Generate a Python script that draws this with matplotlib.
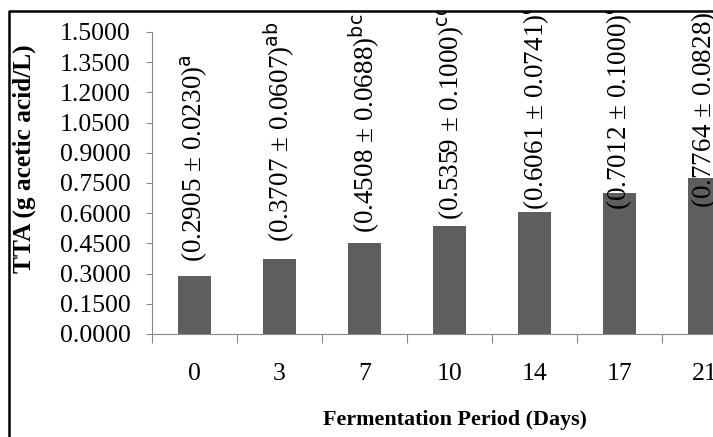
import matplotlib
matplotlib.use('Agg')

import matplotlib.pyplot as plt
from matplotlib.lines import Line2D
from matplotlib.patches import Rectangle

# данные
days = ['0', '3', '7', '10', '14', '17', '21']
tta = [0.2905, 0.3707, 0.4508, 0.5359, 0.6061, 0.7012, 0.7764]
sd = [0.0230, 0.0607, 0.0688, 0.1000, 0.0741, 0.1000, 0.0828]
letters = ['a', 'ab', 'bc', 'cd', 'd', 'e', 'e']
label_y = [0.358, 0.457, 0.502, 0.566, 0.616, 0.616, 0.626]  # низ подписей

plt.rcParams['font.family'] = ['Liberation Serif', 'DejaVu Serif']

fig = plt.figure(figsize=(7.13, 4.37), dpi=100)
ax = fig.add_axes([0.2132, 0.2357, 0.8345, 0.6911])

x = list(range(len(days)))
ax.bar(x, tta, width=0.39, color='#5e5e5e', zorder=2)

for i in x:
	txt = '(%.4f \u00b1 %.4f)$^{\\mathrm{%s}}$' % (tta[i], sd[i], letters[i])
	ax.text(i, label_y[i], txt, rotation=90, ha='center', va='bottom',
		fontsize=19.5, color='black', zorder=3)

ax.set_xlim(-0.5, 6.5)
ax.set_ylim(0, 1.5)
ax.set_yticks([0.15 * k for k in range(11)])
ax.set_yticklabels(['%.4f' % (0.15 * k) for k in range(11)], fontsize=18.5)
ax.set_xticks(x)
ax.set_xticklabels(days, fontsize=18.5)
ax.set_xticks([k - 0.5 for k in range(8)], minor=True)

ax.tick_params(axis='x', which='major', length=0, pad=21)
ax.tick_params(axis='x', which='minor', length=6.5, color='#888888', width=0.8)
ax.tick_params(axis='y', length=4.5, color='#888888', width=0.8, pad=11)

for s in ['top', 'right']:
	ax.spines[s].set_visible(False)
for s in ['left', 'bottom']:
	ax.spines[s].set_color('#888888')
	ax.spines[s].set_linewidth(0.8)

ax.set_ylabel('TTA (g acetic acid/L)', fontsize=18.3, fontweight='bold')
ax.yaxis.label.set_va('center')
ax.yaxis.set_label_coords(-0.215, 0.581)
ax.set_xlabel('Fermentation Period (Days)', fontsize=15.8, fontweight='bold')
ax.xaxis.label.set_va('center')
ax.xaxis.set_label_coords(0.509, -0.285)

# рамка и обрезка сверху
fig.patches.append(Rectangle((0, 0.9748), 1, 0.03, transform=fig.transFigure,
	facecolor='white', edgecolor='none', zorder=5))
fig.lines.append(Line2D([0.0133, 0.0133, 1.01], [-0.01, 0.9748, 0.9748],
	transform=fig.transFigure, color='black', linewidth=1.8, zorder=6))

fig.savefig('out.png', dpi=100)
